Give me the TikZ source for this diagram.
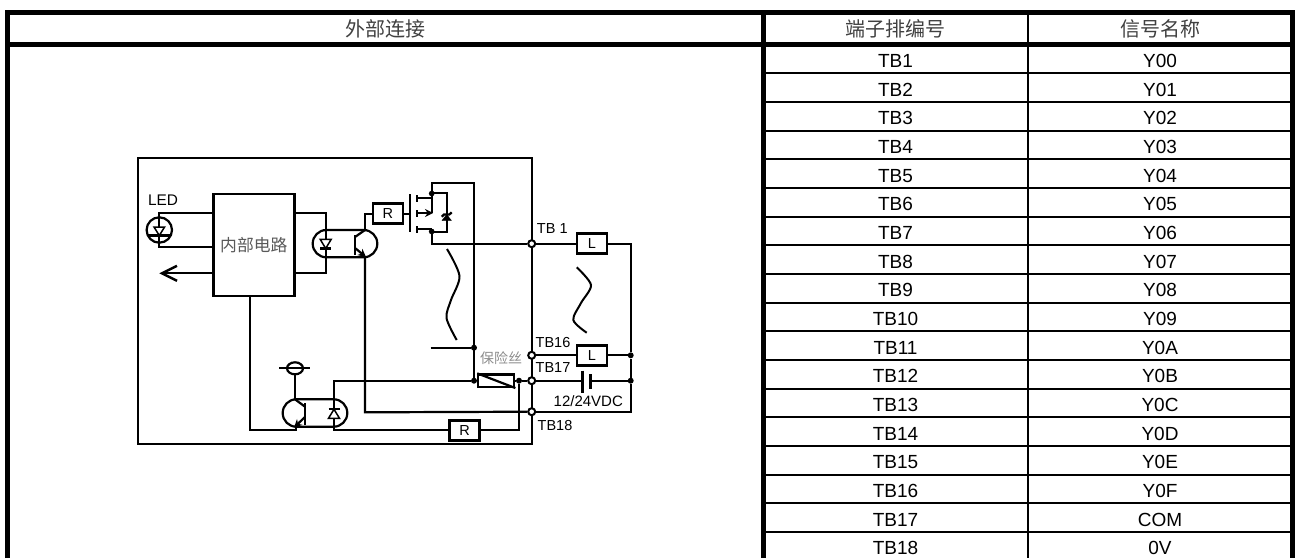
\documentclass[tikz,border=0pt]{standalone}
\usepackage{fontspec}
\setmainfont{Liberation Sans}
\newfontfamily\cjk{Noto Sans CJK SC}
\usetikzlibrary{arrows.meta}
\tikzset{
    wire/.style={line width=2.2pt},
    diode/.style={line width=1.5pt},
    cell/.style={font=\fontsize{19}{19}\selectfont,inner sep=0pt},
    headcell/.style={font=\cjk\fontsize{20}{20}\selectfont,text=black!75,inner sep=0pt},
    lbl/.style={font=\fontsize{14.5}{14.5}\selectfont,inner sep=0pt},
    part/.style={draw,line width=2.5pt,fill=white,minimum width=30pt,minimum height=20pt,inner sep=0pt,font=\fontsize{14.5}{14.5}\selectfont},
    terminal/.style={circle,draw,line width=2pt,fill=white,minimum size=7pt,inner sep=0pt},
    junction/.style={circle,fill=black,minimum size=6pt,inner sep=0pt},
}
\begin{document}
\begin{tikzpicture}[x=1pt,y=-1pt]
    \useasboundingbox (0,0) rectangle (1295,558);
    % table
    \draw[line width=5pt] (7.5,558) -- (7.5,12.5) -- (1292.5,12.5) -- (1292.5,558);
    \draw[line width=5pt] (7.5,44.5) -- (1292.5,44.5);
    \draw[line width=5pt] (763.5,12.5) -- (763.5,558);
    \draw[line width=2pt] (1027.5,12.5) -- (1027.5,558);
    \foreach \i in {1,...,17}
        \draw[line width=2pt] (763.5,44.5+28.68*\i) -- (1292.5,44.5+28.68*\i);
    \node[headcell] (headlink) at (385.5,28.5) {外部连接};
    \node[headcell] (headtb) at (895.5,28.5) {端子排编号};
    \node[headcell] (headsig) at (1160,28.5) {信号名称};
    \foreach \i/\tb/\sig in {1/TB1/Y00,2/TB2/Y01,3/TB3/Y02,4/TB4/Y03,5/TB5/Y04,6/TB6/Y05,7/TB7/Y06,8/TB8/Y07,9/TB9/Y08,10/TB10/Y09,11/TB11/Y0A,12/TB12/Y0B,13/TB13/Y0C,14/TB14/Y0D,15/TB15/Y0E,16/TB16/Y0F,17/TB17/COM,18/TB18/0V} {
        \node[cell] (tb\i) at (895.5,46.5+28.68*\i-14.34) {\tb};
        \node[cell] (sig\i) at (1160,46.5+28.68*\i-14.34) {\sig};
    }
    % housing and parts
    \draw[wire] (138,158.3) rectangle (531.7,444.3);
    \node[draw,line width=2.8pt,fill=white,minimum width=81pt,minimum height=102pt,inner sep=0pt,font=\cjk\fontsize{16.8}{16.8}\selectfont,text=black!65] (core) at (253.8,245) {内部电路};
    \node[part] (rgate) at (387.8,213.7) {R};
    \node[part] (lone) at (592,243.7) {L};
    \node[part] (lsixteen) at (592,355.3) {L};
    \node[part] (rbase) at (464.5,430.3) {R};
    \node[part,minimum width=36pt,minimum height=12.5pt,line width=2.2pt] (fuse) at (496.3,380.7) {};
    \node[terminal] (tbone) at (531.7,243.7) {};
    \node[terminal] (tbsixteen) at (531.7,355.3) {};
    \node[terminal] (tbseventeen) at (531.7,380.7) {};
    \node[terminal] (tbeighteen) at (531.7,411.7) {};
    \node[junction] (jfuseL) at (474,380.7) {};
    \node[junction] (jstub) at (474,347.7) {};
    \node[junction] (jfuseR) at (519,380.7) {};
    \node[junction] (jlsix) at (630.7,355.3) {};
    \node[junction] (jcap) at (630.7,380.7) {};
    % labels
    \node[lbl,font=\fontsize{15.4}{15.4}\selectfont] (ledtxt) at (163,200) {LED};
    \node[lbl] (tbonetxt) at (552.3,228.3) {TB 1};
    \node[lbl] (tbsixtxt) at (553,342.7) {TB16};
    \node[lbl] (tbsevtxt) at (553,367.7) {TB17};
    \node[lbl] (tbeigtxt) at (555,425.7) {TB18};
    \node[lbl,font=\fontsize{15}{15}\selectfont] (voltxt) at (588.3,400.7) {12/24VDC};
    \node[font=\cjk\fontsize{14}{14}\selectfont,text=black!45,inner sep=0pt] (fusetxt) at (501,357.7) {保险丝};
    % LED side
    \draw[wire] (159.3,230) circle [radius=12.7pt];
    \draw[wire] (core.west |- 0,212.7) -- (159.3,212.7) -- (159.3,227);
    \draw[wire] (159.3,235.5) -- (159.3,246.7) -- (core.west |- 0,246.7);
    \draw[diode] (154,227) -- (164.6,227) -- (159.3,235.5) -- cycle;
    \draw[wire] (148,235.5) -- (170.6,235.5);
    \draw[wire,-{Straight Barb[length=15pt,width=15pt,line width=2.4pt]}] (core.west |- 0,273.3) -- (159.3,273.3);
    % first coupler
    \draw[wire] (core.east |- 0,212.7) -- (325.7,212.7) -- (325.7,239.3);
    \draw[wire] (325.7,248.5) -- (325.7,273.3) -- (core.east |- 0,273.3);
    \draw[wire,rounded corners=13.6pt] (312.7,230) rectangle (377.3,257.3);
    \draw[diode] (320.2,239.3) -- (331.2,239.3) -- (325.7,248.5) -- cycle;
    \draw[wire] (320.2,248.5) -- (331.2,248.5);
    \draw[line width=2.6pt] (355,235) -- (355,255);
    \draw[wire] (355,237) -- (365,230);
    \draw[wire,-{Stealth[length=8pt,width=8pt]}] (355,248) -- (366,257);
    \draw[wire] (rgate.west) -- (365,213.7) -- (365,230);
    \draw[wire] (365,256) -- (365,412.3) -- (tbeighteen);
    % MOSFET
    \draw[wire] (rgate.east) -- (410,213.7);
    \draw[line width=2.6pt] (410,194.3) -- (410,232.3);
    \foreach \ya/\yb in {195/201.7,210/216.7,226/232.7}
        \draw[wire] (416.7,\ya) -- (416.7,\yb);
    \draw[wire] (416.7,198) -- (431.7,198);
    \draw[wire,-{Stealth[length=8pt,width=8pt]}] (416.7,213) -- (433,213);
    \draw[wire] (431.7,198) -- (431.7,213);
    \draw[wire] (416.7,229) -- (431.7,229);
    \draw[wire] (jfuseL) -- (474,183.3) -- (431.7,183.3) -- (431.7,198);
    \draw[wire] (431.7,229) -- (431.7,243.7) -- (tbone);
    \filldraw (431.7,193.5) circle [radius=2.6pt] (431.7,231.5) circle [radius=2.6pt];
    \draw[wire] (431.7,193.3) -- (446.7,193.3) -- (446.7,231.7) -- (431.7,231.7);
    \filldraw (442,220.5) -- (451.4,220.5) -- (446.7,214.5) -- cycle;
    \draw[wire] (441.7,216.7) -- (444,214.5) -- (449.4,214.5) -- (451.7,212.3);
    % load side
    \draw[wire] (tbone) -- (lone);
    \draw[wire] (lone) -- (630.7,243.7) -- (jlsix);
    \draw[wire] (tbsixteen) -- (lsixteen);
    \draw[wire] (lsixteen) -- (jlsix);
    \draw[wire] (jlsix) -- (jcap);
    \draw[wire] (jcap) -- (630.7,411.7) -- (tbeighteen);
    \draw[wire] (tbseventeen) -- (582.3,380.7);
    \draw[line width=2.6pt] (582.3,370.7) -- (582.3,392.7);
    \draw[line width=2.6pt] (590.7,374) -- (590.7,389.3);
    \draw[wire] (590.7,380.7) -- (jcap);
    \draw[line width=2pt] plot[smooth] coordinates {(447,249) (459.5,276) (451,300) (446.5,318) (456.7,340)};
    \draw[line width=2pt] plot[smooth] coordinates {(576.7,267.3) (591,285) (581,303) (573.3,320) (586.7,332.7)};
    % fuse
    \draw[wire] (430.7,347.7) -- (jstub);
    \draw[wire] (jstub) -- (jfuseL);
    \draw[wire] (334,418.3) -- (334,380.7) -- (jfuseL);
    \draw[wire] (jfuseL) -- (fuse);
    \draw[wire] (fuse.north west) -- (fuse.south east);
    \draw[wire] (fuse) -- (jfuseR);
    \draw[wire] (jfuseR) -- (tbseventeen);
    \draw[wire] (jfuseR) -- (519,430.3) -- (rbase);
    \draw[wire] (rbase) -- (334,430.3) -- (334,418.3);
    % second coupler
    \draw[wire] (core.south -| 250,0) -- (250,430.3) -- (295.7,430.3) -- (295.7,426.7);
    \draw[wire,rounded corners=13.6pt] (282.7,399.3) rectangle (347.3,426.7);
    \draw[line width=2.6pt] (305,403.3) -- (305,425);
    \draw[wire] (305,406.7) -- (295,399.3);
    \draw[wire,-{Stealth[length=8pt,width=8pt]}] (305,417) -- (294,427.5);
    \draw[diode,fill=white] (328.5,418.3) -- (339.5,418.3) -- (334,409.3) -- cycle;
    \draw[wire] (328.5,409.3) -- (339.5,409.3);
    \draw[wire] (295,399.3) -- (295,368.3);
    \draw[wire,fill=white] (295,368.3) ellipse [x radius=8pt,y radius=6pt];
    \draw[wire] (279.3,368.3) -- (310,368.3);
\end{tikzpicture}
\end{document}
